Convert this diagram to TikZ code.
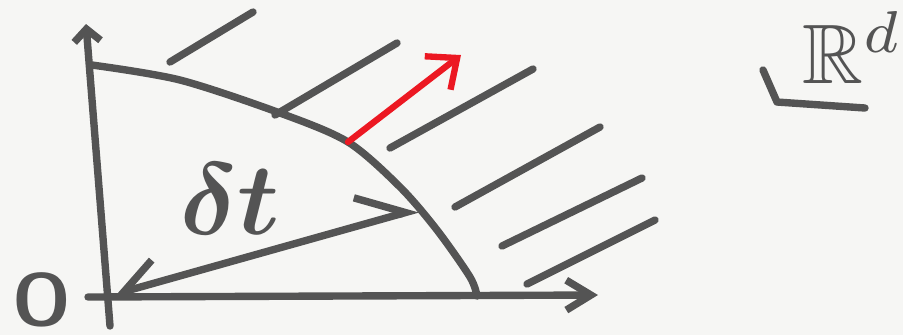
\documentclass[tikz,border=0pt]{standalone}
\usepackage{amsmath,amssymb}
\usepackage{xcolor}
\usepackage{tikz}
\usetikzlibrary{arrows.meta,calc}

\definecolor{ink}{RGB}{84,84,84}
\definecolor{paper}{RGB}{246,246,244}
\definecolor{pen}{RGB}{236,24,34}

\begin{document}
\begin{tikzpicture}[
  x=0.01cm, y=-0.01cm,
  stroke/.style={draw=ink, line width=2.1pt, line cap=round, line join=round},
  every node/.style={text=ink, inner sep=0pt},
]

%% ── Paper: 903 x 335 px, 1 unit = 1 px ─────────────────────────────────────
\fill[paper] (0,0) rectangle (903,335);
\useasboundingbox (0,0) rectangle (903,335);

\coordinate (orig) at (112,295);
\coordinate (ytop) at (86,24);
\coordinate (xend) at (598,295);
\coordinate (hit)  at (348,142);   % red arrow foot on the arc
\coordinate (rad)  at (418,209);   % radius end on the arc

%% ── Axes ──────────────────────────────────────────────────────────────────
\draw[stroke, -{Straight Barb[length=3.5pt,width=7.5pt]}] (110,326) -- (ytop);
\draw[stroke, -{Straight Barb[length=7pt,width=8.5pt]}] (88,297) -- (xend);

%% ── Quarter arc ───────────────────────────────────────────────────────────
\draw[stroke] plot[smooth] coordinates
  {(92,65) (180,80) (280,113) (348,142) (400,187) (437,230) (470,277) (477,296)};

%% ── Hatching outside the arc ──────────────────────────────────────────────
\foreach \xa/\ya/\xb/\yb in {170/62/253/12, 275/115/397/43, 390/148/533/69,
                             455/207/600/127, 502/246/642/178, 527/284/655/220}{
  \draw[stroke] (\xa,\ya) -- (\xb,\yb);
}

%% ── Normal (red) ──────────────────────────────────────────────────────────
\draw[draw=pen, line width=1.8pt, line cap=round,
      -{Straight Barb[length=7pt,width=12pt]}] (hit) -- (461,55);

%% ── Radius with half heads ────────────────────────────────────────────────
\draw[stroke, {Straight Barb[right,length=10pt,width=13pt]}-{Straight Barb[left,length=13pt,width=16pt]}]
  (orig) -- (rad);

%% ── Labels ────────────────────────────────────────────────────────────────
\node[scale=2.1] (lblO) at (42,300) {\sffamily\bfseries O};
\node[scale=2.9] (lblDt) at (230,199) {$\boldsymbol{\delta t}$};

% space marker
\draw[stroke] (763,70) -- (777,102) -- (865,108);
\node[scale=2.4, anchor=base west] (lblR) at (801,83) {$\mathbb{R}^d$};

\end{tikzpicture}
\end{document}
